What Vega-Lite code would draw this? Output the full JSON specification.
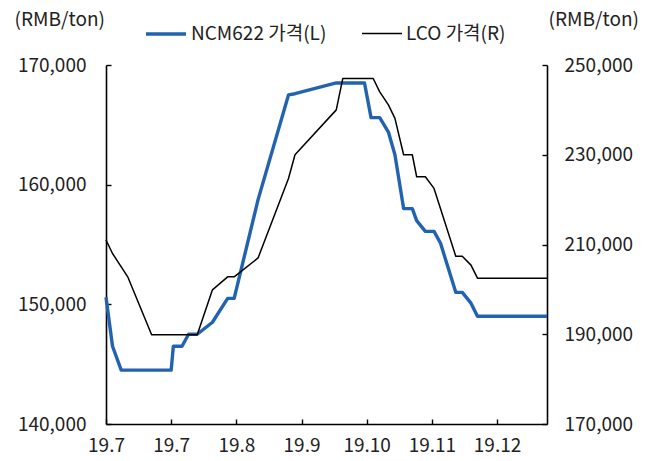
{
  "$schema": "https://vega.github.io/schema/vega-lite/v6.json",
  "width": 441,
  "height": 359,
  "autosize": {"type": "none"},
  "padding": {"left": 106, "top": 65, "right": 108, "bottom": 37},
  "background": "white",
  "config": {
    "view": {"stroke": null},
    "font": "Noto Sans CJK KR",
    "axis": {
      "grid": false,
      "domainColor": "black",
      "domainWidth": 1.6,
      "tickColor": "black",
      "tickWidth": 1.4,
      "tickSize": -5,
      "labelFont": "Noto Sans CJK KR",
      "labelFontSize": 19,
      "labelColor": "#222222",
      "titleFont": "Noto Sans CJK KR",
      "titleFontSize": 19,
      "titleFontWeight": "normal",
      "titleColor": "#222222",
      "labelOverlap": false
    },
    "legend": {
      "orient": "none",
      "legendX": 38,
      "legendY": -53,
      "direction": "horizontal",
      "padding": 0,
      "symbolType": "stroke",
      "symbolSize": 1600,
      "labelFont": "Noto Sans CJK KR",
      "labelFontSize": 19,
      "labelColor": "#222222",
      "labelOffset": 3,
      "columnPadding": 32
    }
  },
  "data": {
    "values": [
      {"date": "2019-07-01", "series": "NCM622 가격(L)", "price": 150600},
      {"date": "2019-07-04", "series": "NCM622 가격(L)", "price": 146500},
      {"date": "2019-07-08", "series": "NCM622 가격(L)", "price": 144500},
      {"date": "2019-07-31", "series": "NCM622 가격(L)", "price": 144500},
      {"date": "2019-08-01", "series": "NCM622 가격(L)", "price": 146500},
      {"date": "2019-08-05", "series": "NCM622 가격(L)", "price": 146500},
      {"date": "2019-08-08", "series": "NCM622 가격(L)", "price": 147500},
      {"date": "2019-08-12", "series": "NCM622 가격(L)", "price": 147500},
      {"date": "2019-08-19", "series": "NCM622 가격(L)", "price": 148500},
      {"date": "2019-08-26", "series": "NCM622 가격(L)", "price": 150500},
      {"date": "2019-08-29", "series": "NCM622 가격(L)", "price": 150500},
      {"date": "2019-09-09", "series": "NCM622 가격(L)", "price": 158750},
      {"date": "2019-09-23", "series": "NCM622 가격(L)", "price": 167500},
      {"date": "2019-09-26", "series": "NCM622 가격(L)", "price": 167600},
      {"date": "2019-10-15", "series": "NCM622 가격(L)", "price": 168500},
      {"date": "2019-10-28", "series": "NCM622 가격(L)", "price": 168500},
      {"date": "2019-10-31", "series": "NCM622 가격(L)", "price": 165600},
      {"date": "2019-11-04", "series": "NCM622 가격(L)", "price": 165600},
      {"date": "2019-11-08", "series": "NCM622 가격(L)", "price": 164400},
      {"date": "2019-11-11", "series": "NCM622 가격(L)", "price": 162500},
      {"date": "2019-11-15", "series": "NCM622 가격(L)", "price": 158000},
      {"date": "2019-11-19", "series": "NCM622 가격(L)", "price": 158000},
      {"date": "2019-11-21", "series": "NCM622 가격(L)", "price": 157000},
      {"date": "2019-11-25", "series": "NCM622 가격(L)", "price": 156100},
      {"date": "2019-11-29", "series": "NCM622 가격(L)", "price": 156100},
      {"date": "2019-12-02", "series": "NCM622 가격(L)", "price": 155100},
      {"date": "2019-12-09", "series": "NCM622 가격(L)", "price": 151000},
      {"date": "2019-12-12", "series": "NCM622 가격(L)", "price": 151000},
      {"date": "2019-12-16", "series": "NCM622 가격(L)", "price": 150100},
      {"date": "2019-12-19", "series": "NCM622 가격(L)", "price": 149000},
      {"date": "2020-01-20", "series": "NCM622 가격(L)", "price": 149000},
      {"date": "2019-07-01", "series": "LCO 가격(R)", "price": 211000},
      {"date": "2019-07-04", "series": "LCO 가격(R)", "price": 208000},
      {"date": "2019-07-11", "series": "LCO 가격(R)", "price": 202800},
      {"date": "2019-07-22", "series": "LCO 가격(R)", "price": 189900},
      {"date": "2019-08-12", "series": "LCO 가격(R)", "price": 189900},
      {"date": "2019-08-19", "series": "LCO 가격(R)", "price": 199900},
      {"date": "2019-08-26", "series": "LCO 가격(R)", "price": 202800},
      {"date": "2019-08-29", "series": "LCO 가격(R)", "price": 202800},
      {"date": "2019-09-09", "series": "LCO 가격(R)", "price": 207000},
      {"date": "2019-09-23", "series": "LCO 가격(R)", "price": 224700},
      {"date": "2019-09-26", "series": "LCO 가격(R)", "price": 230000},
      {"date": "2019-10-15", "series": "LCO 가격(R)", "price": 240000},
      {"date": "2019-10-18", "series": "LCO 가격(R)", "price": 247000},
      {"date": "2019-11-01", "series": "LCO 가격(R)", "price": 247000},
      {"date": "2019-11-04", "series": "LCO 가격(R)", "price": 244000},
      {"date": "2019-11-08", "series": "LCO 가격(R)", "price": 241100},
      {"date": "2019-11-11", "series": "LCO 가격(R)", "price": 238100},
      {"date": "2019-11-15", "series": "LCO 가격(R)", "price": 230000},
      {"date": "2019-11-19", "series": "LCO 가격(R)", "price": 230000},
      {"date": "2019-11-21", "series": "LCO 가격(R)", "price": 225100},
      {"date": "2019-11-25", "series": "LCO 가격(R)", "price": 225100},
      {"date": "2019-11-29", "series": "LCO 가격(R)", "price": 222500},
      {"date": "2019-12-09", "series": "LCO 가격(R)", "price": 207400},
      {"date": "2019-12-12", "series": "LCO 가격(R)", "price": 207400},
      {"date": "2019-12-16", "series": "LCO 가격(R)", "price": 205400},
      {"date": "2019-12-19", "series": "LCO 가격(R)", "price": 202500},
      {"date": "2020-01-20", "series": "LCO 가격(R)", "price": 202500}
    ]
  },
  "encoding": {
    "x": {
      "field": "date",
      "type": "temporal",
      "scale": {
        "type": "utc",
        "nice": false,
        "domain": [
          {"year": 2019, "month": 7, "date": 1, "utc": true},
          {"year": 2020, "month": 1, "date": 20, "utc": true}
        ]
      },
      "axis": {
        "title": null,
        "format": "%y.%-m",
        "labelFlush": false,
        "labelPadding": 17,
        "values": [
          {"year": 2019, "month": 7, "date": 1, "utc": true},
          {"year": 2019, "month": 7, "date": 31, "utc": true},
          {"year": 2019, "month": 8, "date": 30, "utc": true},
          {"year": 2019, "month": 9, "date": 29, "utc": true},
          {"year": 2019, "month": 10, "date": 29, "utc": true},
          {"year": 2019, "month": 11, "date": 28, "utc": true},
          {"year": 2019, "month": 12, "date": 28, "utc": true}
        ]
      }
    },
    "color": {
      "field": "series",
      "type": "nominal",
      "scale": {"domain": ["NCM622 가격(L)", "LCO 가격(R)"], "range": ["#2263b0", "#000000"]},
      "legend": {"title": null}
    },
    "strokeWidth": {
      "field": "series",
      "type": "nominal",
      "scale": {"domain": ["NCM622 가격(L)", "LCO 가격(R)"], "range": [3.4, 1.5]},
      "legend": {"title": null}
    }
  },
  "layer": [
    {
      "transform": [{"filter": "datum.series === 'NCM622 가격(L)'"}],
      "mark": {"type": "line", "strokeJoin": "round"},
      "encoding": {
        "y": {
          "field": "price",
          "type": "quantitative",
          "scale": {"domain": [140000, 170000], "nice": false, "zero": false},
          "axis": {
            "orient": "left",
            "values": [140000, 150000, 160000, 170000],
            "format": ",d",
            "labelPadding": 25,
            "title": "(RMB/ton)",
            "titleAngle": 0,
            "titleAlign": "left",
            "titleBaseline": "middle",
            "titleX": -92,
            "titleY": -46
          }
        }
      }
    },
    {
      "transform": [{"filter": "datum.series === 'LCO 가격(R)'"}],
      "mark": {"type": "line", "strokeJoin": "round"},
      "encoding": {
        "y": {
          "field": "price",
          "type": "quantitative",
          "scale": {"domain": [170000, 250000], "nice": false, "zero": false},
          "axis": {
            "orient": "right",
            "values": [170000, 190000, 210000, 230000, 250000],
            "format": ",d",
            "labelPadding": 22,
            "title": "(RMB/ton)",
            "titleAngle": 0,
            "titleAlign": "left",
            "titleBaseline": "middle",
            "titleX": 1,
            "titleY": -46
          }
        }
      }
    }
  ],
  "resolve": {"scale": {"y": "independent"}}
}
